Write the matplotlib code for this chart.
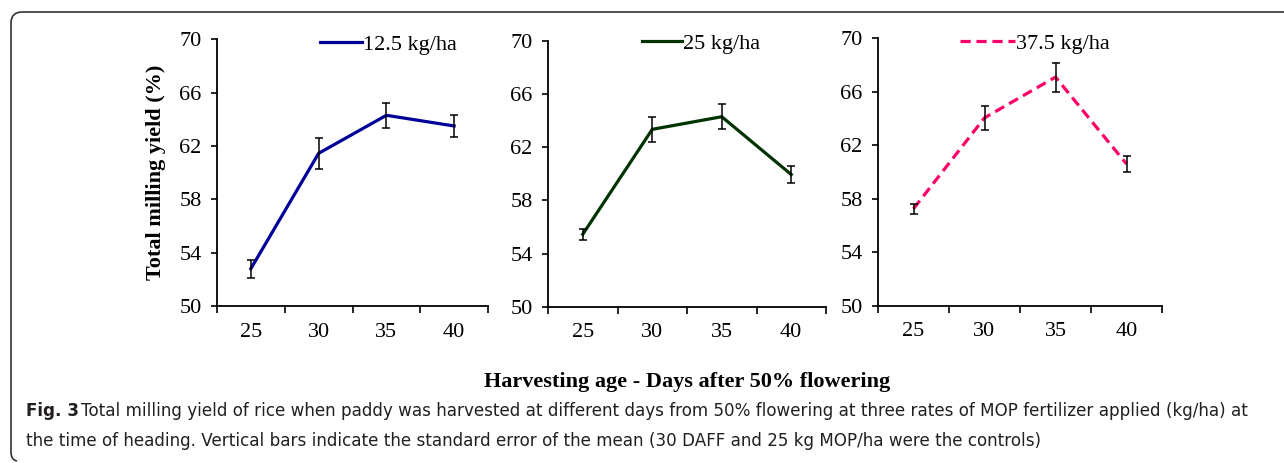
import matplotlib
matplotlib.use("Agg")
import matplotlib.pyplot as plt
from matplotlib.path import Path
from matplotlib.patches import PathPatch
from matplotlib.lines import Line2D
import numpy as np

days = ["25", "30", "35", "40"]
rates = ["12.5 kg/ha", "25 kg/ha", "37.5 kg/ha"]
yield_125 = [52.8, 61.45, 64.3, 63.5]
err_125 = [0.68, 1.15, 0.92, 0.82]
yield_25 = [55.45, 63.35, 64.3, 59.95]
err_25 = [0.42, 0.96, 0.93, 0.66]
yield_375 = [57.25, 64.05, 67.1, 60.6]
err_375 = [0.38, 0.9, 1.08, 0.63]
yticks = [50, 54, 58, 62, 66, 70]

series = [yield_125, yield_25, yield_375]
errors = [err_125, err_25, err_375]
colors = ["#000099", "#003300", "#FF0066"]
styles = ["-", "-", "--"]

W, H = 1284, 463
fig = plt.figure(figsize=(W / 100, H / 100), dpi=100)

serif = "Liberation Serif"
FS = 16

# axes pixel boxes: left, right, top(y=70), bottom(y=50)
boxes = [(217, 488, 39.3, 306.0), (548, 826, 41.0, 306.7), (878, 1162, 38.3, 305.7)]
leg_pos = [(0.38, 0.979, 1.9), (0.338, 0.991, 1.8), (0.289, 0.981, 2.45)]

for i, (l, r, t, b) in enumerate(boxes):
    ax = fig.add_axes([l / W, 1 - b / H, (r - l) / W, (b - t) / H])
    x = np.arange(len(days))
    ax.plot(x, series[i], color=colors[i], lw=2.3, ls=styles[i],
            dashes=(3.2, 1.8) if styles[i] == "--" else (None, None),
            label=rates[i], zorder=2)
    ax.errorbar(x, series[i], yerr=errors[i], fmt="none", ecolor="black",
                elinewidth=1.1, capsize=3.2, capthick=1.1, zorder=3)
    ax.set_xlim(-0.5, 3.5)
    ax.set_ylim(50, 70)
    ax.set_yticks(yticks)
    ax.set_yticklabels([str(v) for v in yticks], fontfamily=serif, fontsize=FS)
    ax.set_xticks(np.arange(-0.5, 4.0, 1.0))
    ax.set_xticklabels([])
    ax.set_xticks(x, minor=True)
    ax.set_xticklabels(days, minor=True, fontfamily=serif, fontsize=FS)
    ax.tick_params(axis="x", which="minor", length=0, pad=12)
    ax.tick_params(axis="x", which="major", length=5, width=1.2, direction="out")
    ax.tick_params(axis="y", length=4, width=1.2, direction="out", pad=7)
    for s in ["top", "right"]:
        ax.spines[s].set_visible(False)
    for s in ["left", "bottom"]:
        ax.spines[s].set_linewidth(1.3)
        ax.spines[s].set_color("black")
    lx, ly, hl = leg_pos[i]
    ax.legend(loc="center left", bbox_to_anchor=(lx, ly), frameon=False,
              prop={"family": serif, "size": FS}, handlelength=hl,
              handletextpad=0.05, borderpad=0, borderaxespad=0)
    if i == 0:
        ax.set_ylabel("Total milling yield (%)", fontfamily=serif, fontsize=FS,
                      fontweight="bold", labelpad=10)

fig.text(687 / W, 1 - 382 / H, "Harvesting age - Days after 50% flowering",
         ha="center", va="center", fontfamily=serif, fontsize=FS, fontweight="bold")

cap_font = "DejaVu Sans"
cs = 12.1
fig.text(26 / W, 1 - 411 / H, "Fig. 3", ha="left", va="center",
         fontfamily=cap_font, fontsize=cs, fontweight="bold", color="#231f20")
fig.text(81 / W, 1 - 411 / H,
         "Total milling yield of rice when paddy was harvested at different days from 50% flowering at three rates of MOP fertilizer applied (kg/ha) at",
         ha="left", va="center", fontfamily=cap_font, fontsize=cs, color="#231f20")
fig.text(26 / W, 1 - 441 / H,
         "the time of heading. Vertical bars indicate the standard error of the mean (30 DAFF and 25 kg MOP/ha were the controls)",
         ha="left", va="center", fontfamily=cap_font, fontsize=cs, color="#231f20")

# rounded frame
def P(px, py):
    return (px / W, 1 - py / H)

fig.add_artist(Line2D([22 / W, 1.0], [1 - 12 / H, 1 - 12 / H], color="#333333",
                      lw=1.2, transform=fig.transFigure, solid_capstyle="butt"))
verts = [P(22, 12), P(11, 12), P(11, 23), P(11, 452), P(11, 460), P(17, 461)]
codes = [Path.MOVETO, Path.CURVE3, Path.CURVE3, Path.LINETO, Path.CURVE3, Path.CURVE3]
fig.add_artist(PathPatch(Path(verts, codes), facecolor="none", edgecolor="#333333",
                         lw=1.2, transform=fig.transFigure))

fig.savefig("out.png", dpi=100)
